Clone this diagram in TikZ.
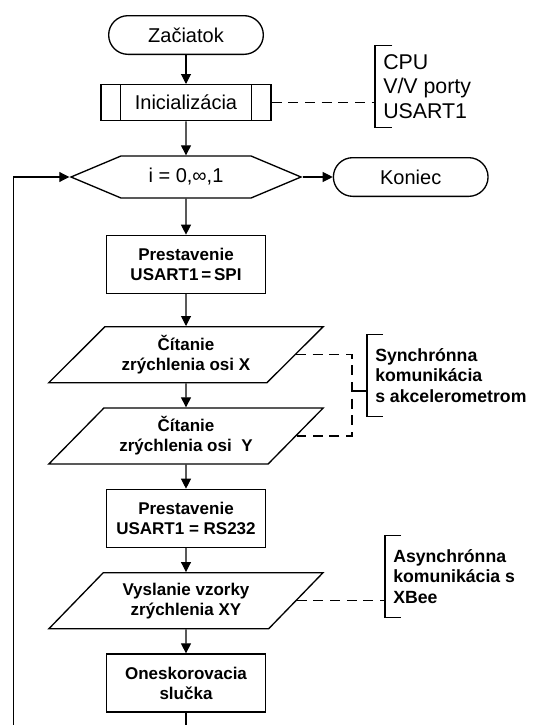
\documentclass[tikz,border=0pt]{standalone}
\usepackage{fontspec}
\setmainfont{Liberation Sans}
\usetikzlibrary{positioning,arrows.meta,shapes.geometric,shapes.symbols}

\begin{document}
\begin{tikzpicture}[
    every node/.style={font=\fontsize{15pt}{14pt}\selectfont},
    bold/.style ={font=\bfseries\fontsize{12.75pt}{15pt}\selectfont},
    side/.style ={font=\bfseries\fontsize{13.25pt}{15.5pt}\selectfont},
    box/.style  ={draw, line width=1pt, align=center, inner sep=2pt},
    term/.style ={box, rounded corners=14.5pt, minimum width=116pt,
                  minimum height=29pt},
    proc/.style ={box, bold, minimum width=119pt, minimum height=43.5pt},
    io/.style   ={box, bold, trapezium, trapezium left angle=43.5,
                  trapezium right angle=136.5, trapezium stretches,
                  minimum width=206pt, minimum height=42pt},
    cond/.style ={box, signal, signal to=east and west,
                  signal pointer angle=45.6, minimum width=172.5pt,
                  minimum height=31.5pt},
    brace/.style={align=left, anchor=west, inner xsep=6pt, inner ysep=0pt,
                  minimum height=61pt},
    arr/.style  ={-{Triangle[length=7.5pt,width=7.5pt]}, line width=0.8pt},
    note/.style ={line width=0.8pt, dash pattern=on 7.5pt off 5pt},
    tick/.style ={line width=0.8pt}
  ]
  \useasboundingbox (0,0) rectangle (409.5pt,-543.75pt);

  \node[term]                          (start) at (139.5pt,-26.25pt) {Začiatok};
  \node[box, minimum width=127.5pt, minimum height=27pt,
        below=21.75pt of start]        (init)  {Inicializácia};
  \node[cond, below=25.5pt of init]    (loop)  {i = 0,∞,1};
  \node[term, right=22.5pt of loop]    (end)   {Koniec};
  \node[proc, below=27pt of loop]      (spi)   {Prestavenie\\USART1\,=\,SPI};
  \node[io, below=24pt of spi]         (rdx)   {Čítanie\\zrýchlenia osi X};
  \node[io, below=18pt of rdx]         (rdy)   {Čítanie\\zrýchlenia osi \ Y};
  \node[proc, below=18pt of rdy]       (rs)    {Prestavenie\\USART1 = RS232};
  \node[io, below=18pt of rs]          (send)  {Vyslanie vzorky\\zrýchlenia XY};
  \node[proc, below=18pt of send]      (wait)  {Oneskorovacia\\slučka};

  \draw[line width=1pt] ([xshift=15pt]init.north west) -- ([xshift=15pt]init.south west)
                        ([xshift=-15pt]init.north east) -- ([xshift=-15pt]init.south east);

  \draw[arr] (start) -- (init);
  \draw[arr] (init)  -- (loop);
  \draw[arr] (loop)  -- (end);
  \draw[arr] (loop)  -- (spi);
  \draw[arr] (spi)   -- (rdx);
  \draw[arr] (rdx)   -- (rdy);
  \draw[arr] (rdy)   -- (rs);
  \draw[arr] (rs)    -- (send);
  \draw[arr] (send)  -- (wait);
  \draw[arr] (wait.south) -- ++(0,-30pt) -| ([xshift=-42pt]loop.west) -- (loop.west);

  \node[brace, font=\fontsize{16pt}{18.5pt}\selectfont]
                     (hw)   at (281.25pt,-64.9pt)  {CPU\\V/V porty\\USART1};
  \node[brace, side] (sync) at (275.25pt,-281.6pt) {Synchrónna\\komunikácia\\s akcelerometrom};
  \node[brace, side] (xb)   at (288.75pt,-432.4pt) {Asynchrónna\\komunikácia s\\XBee};
  \coordinate (sx) at (264pt,-293.25pt);

  \draw[note] (init.east) -- (init.east -| hw.west);
  \draw[note] (rdx.right side) -| (sx) |- (rdy.right side);
  \draw[tick] (sx) -- (sx -| sync.west);
  \draw[note] (send.right side) -- (send.right side -| xb.west);

  \draw[tick] ([xshift=13pt]hw.north west) -- (hw.north west) -- (hw.south west) -- ([xshift=13pt]hw.south west);
  \draw[tick] ([xshift=12pt]sync.north west) -- (sync.north west) -- (sync.south west) -- ([xshift=12pt]sync.south west);
  \draw[tick] ([xshift=12pt]xb.north west) -- (xb.north west) -- (xb.south west) -- ([xshift=12pt]xb.south west);
\end{tikzpicture}
\end{document}
